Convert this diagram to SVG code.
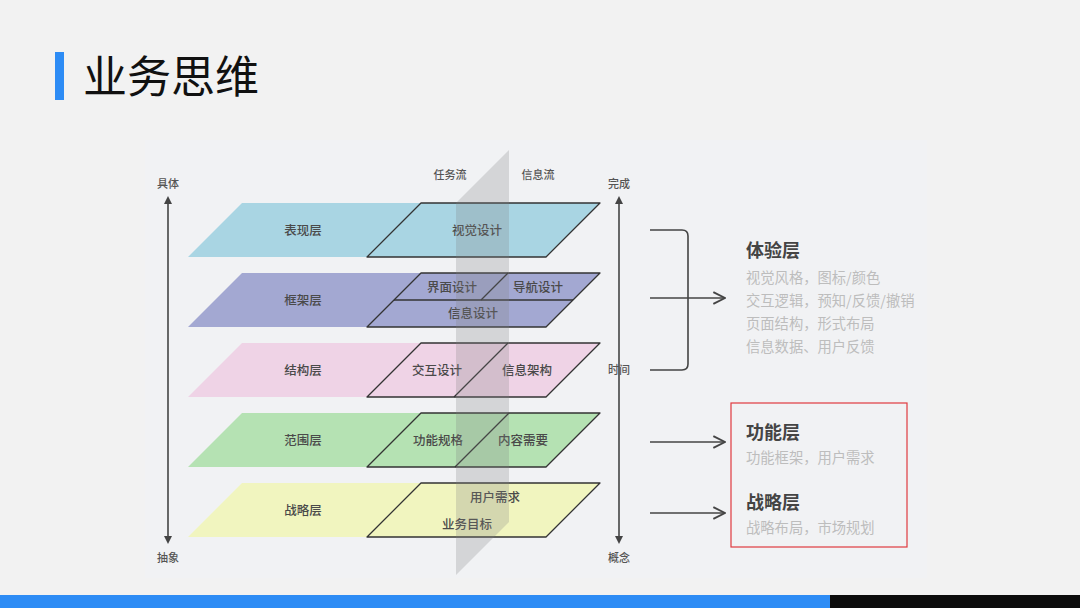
<svg xmlns="http://www.w3.org/2000/svg" width="1080" height="608" viewBox="0 0 1080 608">
<style>
text{font-family:"Noto Sans CJK SC","Noto Sans",sans-serif}
.lbl{font-size:12.5px;font-weight:500;fill:#4a4a4a;text-anchor:middle;dominant-baseline:central}
.ax{font-size:11px;font-weight:500;fill:#555;text-anchor:middle;dominant-baseline:central}
.sub{fill:none;stroke:#333;stroke-width:1.3;stroke-linejoin:round}
.conn{fill:none;stroke:#444;stroke-width:1.6}
.h{font-size:18px;font-weight:bold;fill:#444;dominant-baseline:central}
.d{font-size:14.3px;fill:#bdbdbd;dominant-baseline:central}
</style>
<defs>
<marker id="tri" viewBox="0 0 10 10" refX="5" refY="5" markerWidth="8" markerHeight="8" markerUnits="userSpaceOnUse" orient="auto-start-reverse">
<path d="M0,0 L10,5 L0,10 z" fill="#444"/>
</marker>
<marker id="open" viewBox="0 0 12 12" refX="11" refY="6" markerWidth="14" markerHeight="14" markerUnits="userSpaceOnUse" orient="auto">
<path d="M1,1 L11,6 L1,11" fill="none" stroke="#444" stroke-width="1.6"/>
</marker>
</defs>
<rect width="1080" height="608" fill="#f2f2f2"/>
<rect x="145" y="140" width="782" height="438" fill="#f1f2f4"/>
<g id="title">
<rect x="55" y="52" width="9" height="48" fill="#2d8cf5"/>
<text x="83" y="74" font-size="44" fill="#111" dominant-baseline="central">业务思维</text>
</g>
<g id="layer-biaoxian">
<polygon points="242,203 600,203 546,257 188,257" fill="#a9d5e3"/>
<polygon class="sub" points="421,203 600,203 546,257 367,257"/>
<text class="lbl" x="303" y="229">表现层</text>
<text class="lbl" x="477" y="229">视觉设计</text>
</g>
<g id="layer-kuangjia">
<polygon points="242,273 600,273 546,327 188,327" fill="#a3a8d2"/>
<polygon class="sub" points="421,273 600,273 546,327 367,327"/>
<line class="sub" x1="394" y1="300" x2="573" y2="300"/>
<line class="sub" x1="508" y1="273" x2="481" y2="300"/>
<text class="lbl" x="452" y="286">界面设计</text>
<text class="lbl" x="538" y="286">导航设计</text>
<text class="lbl" x="473" y="312">信息设计</text>
<text class="lbl" x="303" y="299">框架层</text>
</g>
<g id="layer-jiegou">
<polygon points="242,343 600,343 546,397 188,397" fill="#efd3e6"/>
<polygon class="sub" points="421,343 600,343 546,397 367,397"/>
<line class="sub" x1="508" y1="343" x2="454" y2="397"/>
<text class="lbl" x="303" y="369">结构层</text>
<text class="lbl" x="437" y="369">交互设计</text>
<text class="lbl" x="527" y="369">信息架构</text>
</g>
<g id="layer-fanwei">
<polygon points="242,413 600,413 546,467 188,467" fill="#b5e2b3"/>
<polygon class="sub" points="421,413 600,413 546,467 367,467"/>
<line class="sub" x1="509" y1="413" x2="455" y2="467"/>
<text class="lbl" x="303" y="439">范围层</text>
<text class="lbl" x="438" y="439">功能规格</text>
<text class="lbl" x="523" y="439">内容需要</text>
</g>
<g id="layer-zhanlue">
<polygon points="242,483 600,483 546,537 188,537" fill="#f1f5bf"/>
<polygon class="sub" points="421,483 600,483 546,537 367,537"/>
<text class="lbl" x="303" y="509">战略层</text>
<text class="lbl" x="495" y="496">用户需求</text>
<text class="lbl" x="467" y="523">业务目标</text>
</g>
<g id="plane">
<polygon points="456,203 509,150 509,522 456,575" fill="#808080" fill-opacity="0.25"/>
<text class="ax" x="450" y="174" font-size="12">任务流</text>
<text class="ax" x="538" y="174" font-size="12">信息流</text>
</g>
<g id="axis-left">
<text class="ax" x="168" y="183">具体</text>
<text class="ax" x="168" y="557">抽象</text>
</g>
<g id="axis-right">
<text class="ax" x="619" y="183">完成</text>
<text class="ax" x="619" y="369">时间</text>
<text class="ax" x="619" y="557">概念</text>
</g>
<g id="connectors">
<line class="conn" x1="168" y1="200" x2="168" y2="540" marker-start="url(#tri)" marker-end="url(#tri)"/>
<line class="conn" x1="619" y1="200" x2="619" y2="540" marker-start="url(#tri)" marker-end="url(#tri)"/>
<path class="conn" d="M650,230 H682 Q688,230 688,236 V364 Q688,370 682,370 H650"/>
<line class="conn" x1="650" y1="298" x2="725" y2="298" marker-end="url(#open)"/>
<line class="conn" x1="650" y1="442" x2="725" y2="442" marker-end="url(#open)"/>
<line class="conn" x1="650" y1="513" x2="725" y2="513" marker-end="url(#open)"/>
</g>
<g id="tiyan">
<text class="h" x="746" y="249">体验层</text>
<text class="d" x="746" y="276">视觉风格，图标/颜色</text>
<text class="d" x="746" y="299">交互逻辑，预知/反馈/撤销</text>
<text class="d" x="746" y="322">页面结构，形式布局</text>
<text class="d" x="746" y="345">信息数据、用户反馈</text>
</g>
<g id="highlight">
<rect x="731" y="403" width="176" height="144" fill="none" stroke="#e0393e" stroke-width="1.2"/>
</g>
<g id="gongneng">
<text class="h" x="746" y="431">功能层</text>
<text class="d" x="746" y="456">功能框架，用户需求</text>
</g>
<g id="zhanlue">
<text class="h" x="746" y="501">战略层</text>
<text class="d" x="746" y="526">战略布局，市场规划</text>
</g>
<g id="footer">
<rect x="0" y="595" width="830" height="13" fill="#2d8cf5"/>
<rect x="830" y="595" width="250" height="13" fill="#0c0c0c"/>
</g>
</svg>
